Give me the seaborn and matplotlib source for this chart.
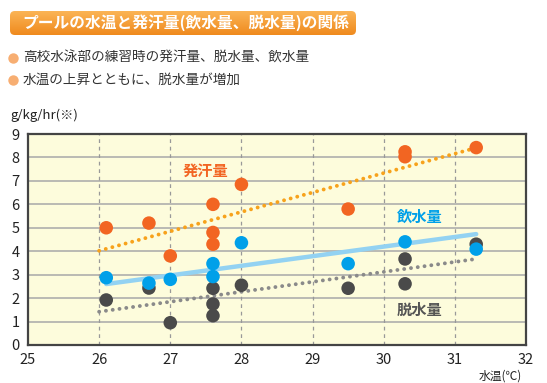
import numpy as np
import pandas as pd
import matplotlib.pyplot as plt
import seaborn as sns
from matplotlib.patches import FancyBboxPatch
from matplotlib.lines import Line2D
from matplotlib.colors import LinearSegmentedColormap

# データ
sweat_x = [26.1, 26.7, 27.0, 27.6, 27.6, 27.6, 28.0, 29.5, 30.3, 30.3, 31.3]
sweat_y = [5.0, 5.2, 3.8, 6.0, 4.8, 4.3, 6.85, 5.8, 8.24, 8.03, 8.42]

drink_x = [26.1, 26.7, 27.0, 27.6, 27.6, 28.0, 29.5, 30.3, 31.3]
drink_y = [2.87, 2.64, 2.8, 3.47, 2.92, 4.36, 3.47, 4.4, 4.09]

dehyd_x = [26.1, 26.7, 27.0, 27.6, 27.6, 27.6, 28.0, 29.5, 30.3, 30.3, 31.3]
dehyd_y = [1.92, 2.43, 0.95, 2.42, 1.75, 1.25, 2.55, 2.42, 3.67, 2.61, 4.3]

# 近似線の両端
trend_x = [26.0, 31.3]
sweat_trend = [4.02, 8.41]
drink_trend_x = [26.1, 31.3]
drink_trend = [2.6, 4.73]
dehyd_trend = [1.42, 3.67]

series = ['脱水量', '飲水量', '発汗量']
colors = {'発汗量': '#f26522', '飲水量': '#00a0e9', '脱水量': '#4a4a4a'}

df = pd.concat([
    pd.DataFrame({'水温': dehyd_x, '量': dehyd_y, '種類': '脱水量'}),
    pd.DataFrame({'水温': drink_x, '量': drink_y, '種類': '飲水量'}),
    pd.DataFrame({'水温': sweat_x, '量': sweat_y, '種類': '発汗量'}),
], ignore_index=True)

sns.set_style("white")
plt.rcParams['font.family'] = ['Noto Sans CJK JP', 'DejaVu Sans']

fig = plt.figure(figsize=(5.47, 3.83), dpi=100)
ax = fig.add_axes([28 / 547, 1 - 345 / 383, 498 / 547, 211 / 383])
ax.set_facecolor('#fdfcdc')

# グリッド
for yv in range(1, 9):
    ax.axhline(yv, color='#a8a8a8', lw=1.1, zorder=0)
for xv in range(26, 32):
    ax.axvline(xv, color='#999999', lw=0.9, ls=(0, (3, 3)), zorder=0)

# 近似線
dots = (0, (0.01, 1.75))
ax.plot(trend_x, sweat_trend, color='#f7a21b', lw=2.8, ls=dots,
        dash_capstyle='round', zorder=1)
ax.plot(drink_trend_x, drink_trend, color='#93d2f2', lw=3.2, zorder=1)
ax.plot(trend_x, dehyd_trend, color='#8a8a8a', lw=2.8, ls=dots,
        dash_capstyle='round', zorder=1)

sns.scatterplot(data=df, x='水温', y='量', hue='種類', hue_order=series,
                palette=colors, s=95, edgecolor='none', legend=False,
                ax=ax, zorder=3)

ax.set_xlim(25, 32)
ax.set_ylim(0, 9)
ax.set_xticks(range(25, 33))
ax.set_yticks(range(0, 10))
ax.set_xlabel('')
ax.set_ylabel('')
ax.tick_params(axis='both', length=0, labelsize=10.5, colors='#222222')
ax.tick_params(axis='x', pad=6)
ax.tick_params(axis='y', pad=6)
for sp in ax.spines.values():
    sp.set_visible(True)
    sp.set_color('#444444')
    sp.set_linewidth(1.6)

# ラベル
ax.text(27.49, 7.43, '発汗量', color=colors['発汗量'], fontsize=11,
        fontweight='bold', ha='center', va='center')
ax.text(30.5, 5.46, '飲水量', color=colors['飲水量'], fontsize=11,
        fontweight='bold', ha='center', va='center')
ax.text(30.5, 1.49, '脱水量', color='#555555', fontsize=11,
        fontweight='bold', ha='center', va='center')

# タイトル(グラデーションの角丸ボックス)
tax = fig.add_axes([10 / 547, 1 - 35 / 383, 346 / 547, 24 / 383])
tax.set_axis_off()
grad = LinearSegmentedColormap.from_list('g', ['#ef8a1e', '#fbb455'])
img = tax.imshow(np.linspace(0, 1, 50).reshape(-1, 1), cmap=grad, aspect='auto',
                 extent=[0, 1, 0, 1], origin='lower')
box = FancyBboxPatch((0, 0), 1, 1, boxstyle='round,pad=0,rounding_size=0.014',
                     mutation_aspect=346 / 24, transform=tax.transAxes,
                     facecolor='none', edgecolor='none')
tax.add_patch(box)
img.set_clip_path(box)
tax.set_xlim(0, 1)
tax.set_ylim(0, 1)
fig.text(22 / 547, 1 - 23 / 383, 'プールの水温と発汗量(飲水量、脱水量)の関係',
         color='white', fontsize=11.3, fontweight='bold', va='center', ha='left')

# 説明
notes = ['高校水泳部の練習時の発汗量、脱水量、飲水量', '水温の上昇とともに、脱水量が増加']
for i, t in enumerate(notes):
    yy = 1 - (58 + i * 22) / 383
    fig.add_artist(Line2D([13 / 547], [yy], marker='o', ms=7.5, color='#f7ae72',
                          markeredgewidth=0, transform=fig.transFigure))
    fig.text(23 / 547, yy, t, color='#333333', fontsize=9.8, va='center', ha='left')

fig.text(10 / 547, 1 - 115 / 383, 'g/kg/hr(※)', color='#222222', fontsize=9.5,
         va='center', ha='left')
fig.text(522 / 547, 1 - 376 / 383, '水温(℃)', color='#222222', fontsize=8.5,
         va='center', ha='right')

fig.savefig('out.png', dpi=100)
